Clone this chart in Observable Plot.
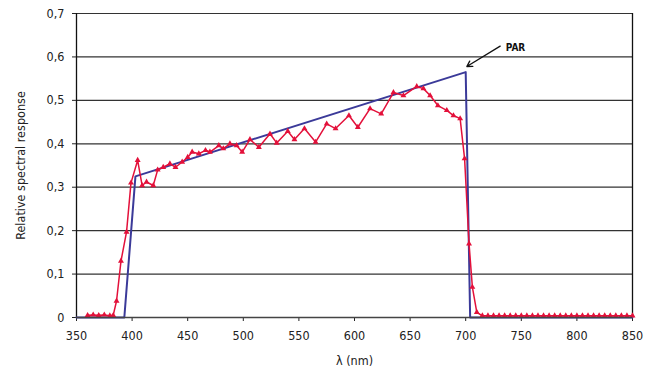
<!DOCTYPE html>
<html><head><meta charset="utf-8">
<script src="https://cdn.jsdelivr.net/npm/d3@7"></script>
<script src="https://cdn.jsdelivr.net/npm/@observablehq/plot@0.6"></script>
<style>body{margin:0;background:#fff}</style>
</head><body><div id="chart"></div>
<script>
// Measured detector response (red, triangles)
const redWavelength = [360,365,370,375,380,383,386,390,395,399,405,409,413,419,423,428,434,439,445,450,454,460,466,470,478,482,488,494,499,506,514,524,530,540,546,555,565,575,583,595,603,614,624,635,644,656,662,668,675,683,689,695,699,703,706,710,715,720,725,730,735,740,745,750,755,760,765,770,775,780,785,790,795,800,805,810,815,820,825,830,835,840,845,850];
const redResponse   = [0.005,0.006,0.005,0.006,0.004,0.005,0.038,0.13,0.197,0.31,0.362,0.304,0.312,0.304,0.34,0.346,0.354,0.346,0.358,0.369,0.381,0.377,0.385,0.381,0.396,0.389,0.40,0.396,0.381,0.41,0.392,0.423,0.402,0.429,0.41,0.435,0.404,0.446,0.435,0.465,0.438,0.481,0.469,0.518,0.511,0.532,0.527,0.511,0.488,0.477,0.465,0.458,0.366,0.17,0.07,0.012,0.004,0.004,0.004,0.004,0.004,0.004,0.004,0.004,0.004,0.004,0.004,0.004,0.004,0.004,0.004,0.004,0.004,0.004,0.004,0.004,0.004,0.004,0.004,0.004,0.004,0.004,0.004,0.004];
// Ideal PAR response (blue)
const parWavelength = [350,393,403,700,704,850];
const parResponse   = [0,0,0.325,0.565,0,0];
// Axis ticks
const xTicks = [350,400,450,500,550,600,650,700,750,800,850];
const yTicks = [0,0.1,0.2,0.3,0.4,0.5,0.6,0.7];
// Annotation
const annotLabel = ["PAR"];
const annotFrom = [[731,0.625]];
const annotTo = [[701,0.578]];
const annotText = [[736,0.62]];

const red = redWavelength.map((w,i)=>({w, v: redResponse[i]}));
const par = parWavelength.map((w,i)=>({w, v: parResponse[i]}));
const annot = annotLabel.map((t,i)=>({t, x1: annotFrom[i][0], y1: annotFrom[i][1], x2: annotTo[i][0], y2: annotTo[i][1], tx: annotText[i][0], ty: annotText[i][1]}));

const REDC = "#e3103a", BLUEC = "#3b3a99";

const chart = Plot.plot({
  width: 651, height: 372,
  marginLeft: 76, marginRight: 19, marginTop: 13, marginBottom: 55,
  style: {fontFamily: "'Liberation Sans Narrow','DejaVu Sans Condensed',Arial,sans-serif", fontSize: "12px", color: "#222", background: "#fff"},
  x: {domain: [350, 850]},
  y: {domain: [0, 0.7]},
  marks: [
    Plot.ruleY(yTicks.filter(d => d > 0), {stroke: "#333", strokeWidth: 1.2}),
    Plot.ruleX([350, 850], {stroke: "#111", strokeWidth: 1.3}),
    Plot.axisY({ticks: yTicks, tickSize: 4, tickPadding: 8, tickFormat: d => String(d).replace(".", ","),
      label: "Relative spectral response", labelAnchor: "center", labelArrow: "none", labelOffset: 60, fontSize: 12.5}),
    Plot.axisX({ticks: xTicks, tickSize: 4, tickPadding: 10, tickFormat: d => String(d),
      label: "λ (nm)", labelAnchor: "center", labelArrow: "none", labelOffset: 47, fontSize: 12.5}),
    Plot.line(par, {x: "w", y: "v", stroke: BLUEC, strokeWidth: 2}),
    Plot.line(red, {x: "w", y: "v", stroke: REDC, strokeWidth: 1.5}),
    Plot.dot(red, {x: "w", y: "v", symbol: "triangle", r: 2.2, fill: REDC, stroke: "none"}),
    Plot.ruleY([0], {stroke: "#444", strokeWidth: 1.3}),
    Plot.arrow(annot, {x1: "x1", y1: "y1", x2: "x2", y2: "y2", stroke: "#111", strokeWidth: 1.3, headLength: 7}),
    Plot.text(annot, {x: "tx", y: "ty", text: "t", textAnchor: "start", fontWeight: "bold", fontSize: 10, fill: "#111"})
  ]
});
document.getElementById("chart").appendChild(chart);
</script>
</body></html>
